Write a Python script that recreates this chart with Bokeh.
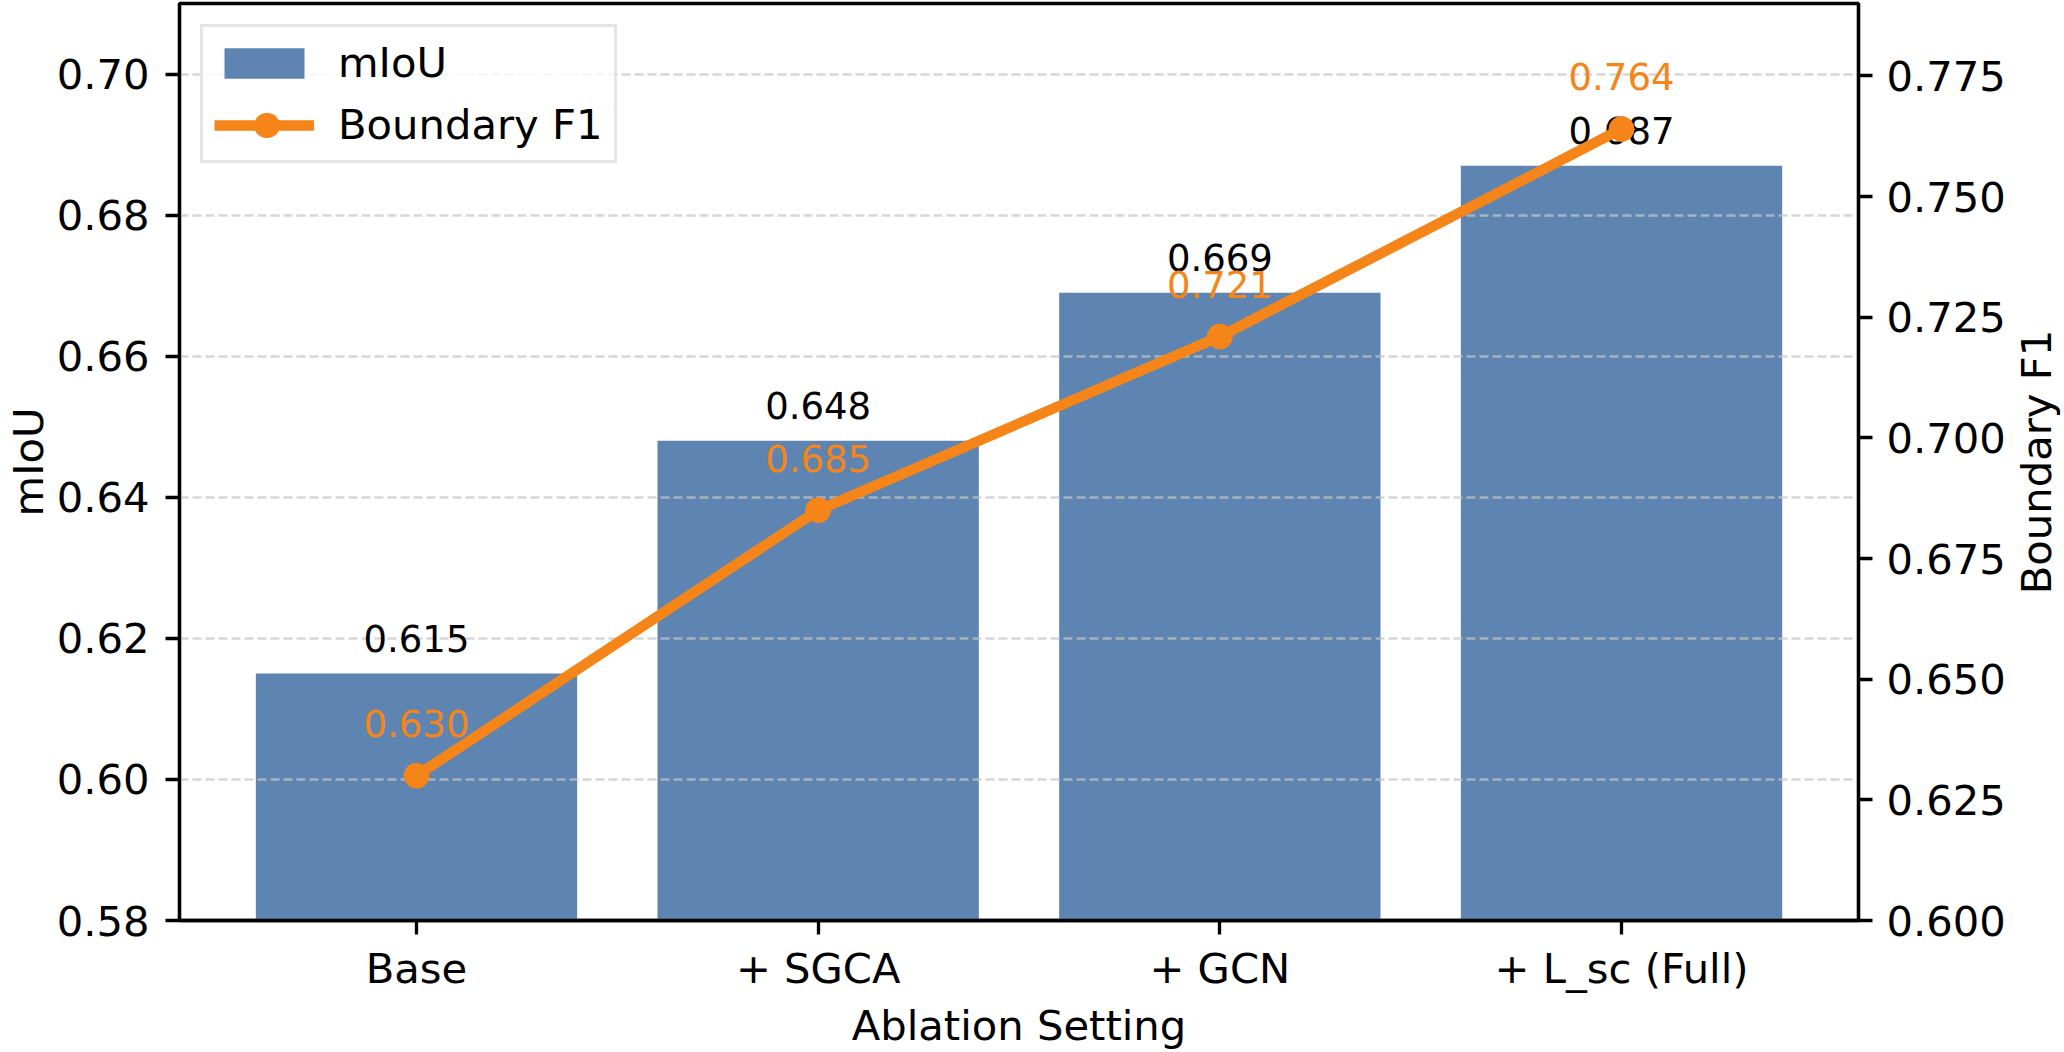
import math
from bokeh.plotting import figure
from bokeh.layouts import row
from bokeh.models import (Range1d, LinearAxis, FixedTicker, NumeralTickFormatter, Legend,
                          LegendItem)
from bokeh.core.properties import value
from bokeh.embed import file_html
from bokeh.resources import INLINE

# ---- data ----
categories = ["Base", "+ SGCA", "+ GCN", "+ L_sc (Full)"]
miou = [0.615, 0.648, 0.669, 0.687]
boundary_f1 = [0.630, 0.685, 0.721, 0.764]
left_ticks = [0.58, 0.60, 0.62, 0.64, 0.66, 0.68, 0.70]
right_ticks = [0.600, 0.625, 0.650, 0.675, 0.700, 0.725, 0.750, 0.775]
y_title_left = "mIoU"
y_title_right = "Boundary F1"
x_title = "Ablation Setting"

# ---- style / layout ----
FONT = "DejaVu Sans"
TICK_FS = "41.7px"
VAL_FS = "37px"
BLUE = "#4C78A8"
ORANGE = "#F58518"
LW = 3.3
W, H = 2064, 1052
RIGHT_STRIP = 56
MAIN_W = W - RIGHT_STRIP
BORDER_TOP, BORDER_BOTTOM = 3, 132

xs = list(range(len(categories)))
miou_lab_y = [v + 0.005 for v in miou]
f1_lab_y = [v + 0.0108 for v in boundary_f1]

p = figure(width=MAIN_W, height=H, output_backend="svg", toolbar_location=None,
           x_range=Range1d(-0.59, 3.59), y_range=Range1d(0.58, 0.71),
           min_border_left=176, min_border_right=150, min_border_top=BORDER_TOP,
           min_border_bottom=BORDER_BOTTOM)
p.extra_y_ranges = {"f1": Range1d(0.60, 0.79), "hidden": Range1d(-2.0, -1.0)}

p.outline_line_color = "black"
p.outline_line_width = LW
p.background_fill_color = "white"
p.border_fill_color = "white"

bars = p.vbar(x=xs, top=miou, bottom=0, width=0.8, fill_color=BLUE, fill_alpha=0.9,
              line_color=None, level="image")

p.text(x=xs, y=miou_lab_y, text=[f"{v:.3f}" for v in miou], text_align="center",
       text_baseline="alphabetic", text_font=value(FONT), text_font_size=VAL_FS,
       text_color="black")

ln = p.line(x=xs, y=boundary_f1, y_range_name="f1", line_color=ORANGE, line_width=10.4)
sc = p.scatter(x=xs, y=boundary_f1, y_range_name="f1", size=25, fill_color=ORANGE,
               line_color=ORANGE)
# legend-only round dot (drawn off-frame; only its legend swatch is visible)
dot = p.line(x=xs, y=boundary_f1, y_range_name="hidden", line_color=ORANGE, line_width=25,
             line_cap="round", line_dash="1 999", line_dash_offset=948)

p.text(x=xs, y=f1_lab_y, y_range_name="f1", text=[f"{v:.3f}" for v in boundary_f1],
       text_align="center", text_baseline="alphabetic", text_font=value(FONT),
       text_font_size=VAL_FS, text_color=ORANGE)

# grid
p.xgrid.visible = False
p.ygrid.ticker = FixedTicker(ticks=left_ticks)
p.ygrid.grid_line_color = "#c4c4c4"
p.ygrid.grid_line_alpha = 0.7
p.ygrid.grid_line_width = 2.5
p.ygrid.grid_line_dash = "9 4"

def style_axis(ax):
    ax.axis_line_width = LW
    ax.axis_line_color = "black"
    ax.major_tick_line_width = LW
    ax.major_tick_line_color = "black"
    ax.major_tick_out = 14
    ax.major_tick_in = 0
    ax.minor_tick_out = 0
    ax.minor_tick_in = 0
    ax.major_label_text_font = FONT
    ax.major_label_text_font_size = TICK_FS
    ax.major_label_text_color = "black"
    ax.axis_label_text_font = FONT
    ax.axis_label_text_font_size = TICK_FS
    ax.axis_label_text_font_style = "normal"
    ax.axis_label_text_color = "black"

# x axis
xa = p.xaxis[0]
style_axis(xa)
xa.ticker = FixedTicker(ticks=xs)
xa.major_label_overrides = {i: c for i, c in zip(xs, categories)}
xa.axis_label = x_title
xa.major_label_standoff = 9
xa.axis_label_standoff = 5

# left y axis
ya = p.yaxis[0]
style_axis(ya)
ya.ticker = FixedTicker(ticks=left_ticks)
ya.formatter = NumeralTickFormatter(format="0.00")
ya.axis_label = y_title_left
ya.major_label_standoff = 16
ya.axis_label_standoff = 1

# right y axis (ticks + numbers; its title sits in the strip to the right)
ra = LinearAxis(y_range_name="f1")
style_axis(ra)
ra.ticker = FixedTicker(ticks=right_ticks)
ra.formatter = NumeralTickFormatter(format="0.000")
ra.major_label_standoff = 14
p.add_layout(ra, "right")

legend = Legend(items=[LegendItem(label="mIoU", renderers=[bars]),
                       LegendItem(label="Boundary F1", renderers=[ln, dot])],
                location="top_left")
legend.margin = 21
legend.padding = 11
legend.spacing = 13
legend.glyph_width = 100
legend.glyph_height = 38
legend.label_standoff = 24
legend.label_text_font = FONT
legend.label_text_font_size = TICK_FS
legend.label_text_color = "black"
legend.border_line_color = "#cccccc"
legend.border_line_width = 3.3
legend.background_fill_alpha = 0.8
p.add_layout(legend)

# narrow strip whose (invisible) left axis carries the right-hand title,
# so that it reads bottom-to-top like the reference
s = figure(width=RIGHT_STRIP, height=H, output_backend="svg", toolbar_location=None,
           x_range=Range1d(0, 1), y_range=Range1d(0, 1), x_axis_type=None,
           min_border_left=0, min_border_right=0, min_border_top=BORDER_TOP,
           min_border_bottom=BORDER_BOTTOM)
s.outline_line_color = None
s.background_fill_color = "white"
s.border_fill_color = "white"
s.xgrid.visible = False
s.ygrid.visible = False
sa = s.yaxis[0]
sa.ticker = FixedTicker(ticks=[])
sa.axis_line_color = None
sa.major_tick_line_color = None
sa.minor_tick_line_color = None
sa.major_tick_out = 0
sa.major_label_standoff = 0
sa.axis_label = y_title_right
sa.axis_label_standoff = 0
sa.axis_label_text_font = FONT
sa.axis_label_text_font_size = TICK_FS
sa.axis_label_text_font_style = "normal"
sa.axis_label_text_color = "black"

page = row(p, s, spacing=0)
open("out.html", "w").write(file_html(page, INLINE))
